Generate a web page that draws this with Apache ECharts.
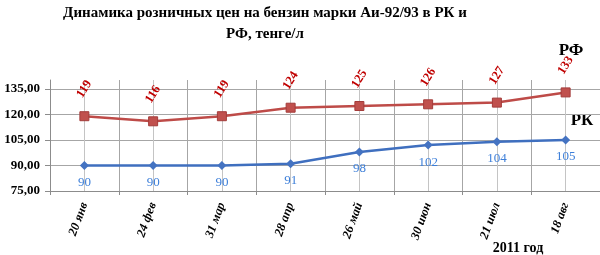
<!DOCTYPE html>
<html><head><meta charset="utf-8">
<script src="https://cdn.jsdelivr.net/npm/echarts@6/dist/echarts.min.js"></script>
<style>html,body{margin:0;padding:0;background:#fff}#c{width:600px;height:255px}</style>
</head><body><div id="c"></div>
<script>
const categories = ['20 янв','24 фев','31 мар','28 апр','26 май','30 июн','21 июл','18 авг'];
const rfValues = [119, 116, 119, 124, 125, 126, 127, 133];
const rkValues = [90, 90, 90, 91, 98, 102, 104, 105];
const yTicks = [75, 90, 105, 120, 135];
const titleText = 'Динамика розничных цен на бензин марки Аи-92/93 в РК и\nРФ, тенге/л';
const xAxisName = '2011 год';

const serif = 'Liberation Serif';
const chart = echarts.init(document.getElementById('c'), null, {renderer: 'canvas'});
chart.setOption({
  animation: false,
  backgroundColor: '#fff',
  grid: {left: 50, top: 80, width: 553, height: 111, containLabel: false},
  xAxis: {
    type: 'category', data: categories, boundaryGap: true,
    axisLine: {lineStyle: {color: '#8c8c8c', width: 1}},
    axisTick: {show: true, length: 4, lineStyle: {color: '#8c8c8c'}},
    axisLabel: {rotate: 70, margin: 12, color: '#000', fontFamily: serif, fontSize: 12.5, fontWeight: 'bold', fontStyle: 'italic', interval: 0},
    splitLine: {show: true, interval: 0, lineStyle: {color: '#a6a6a6', width: 1}}
  },
  yAxis: {
    type: 'value', min: 75, max: 140.3, interval: 15,
    axisLine: {show: true, lineStyle: {color: '#8c8c8c'}},
    axisTick: {show: true, length: 5, customValues: yTicks, lineStyle: {color: '#8c8c8c'}},
    axisLabel: {customValues: yTicks, margin: 10, color: '#000', fontFamily: serif, fontSize: 13, fontWeight: 'bold',
      formatter: v => v.toFixed(2).replace('.', ',')},
    splitLine: {show: true, lineStyle: {color: '#a6a6a6', width: 1}}
  },
  graphic: [
    {type: 'text', x: 265, y: 3, style: {text: titleText, align: 'center', verticalAlign: 'top', font: 'bold 15px "Liberation Serif"', lineHeight: 21, fill: '#000'}},
    {type: 'text', x: 571, y: 51, style: {text: 'РФ', align: 'center', verticalAlign: 'middle', font: 'bold 17px "Liberation Serif"', fill: '#000'}},
    {type: 'text', x: 582, y: 121, style: {text: 'РК', align: 'center', verticalAlign: 'middle', font: 'bold 17px "Liberation Serif"', fill: '#000'}},
    {type: 'text', x: 518, y: 248, style: {text: xAxisName, align: 'center', verticalAlign: 'middle', font: 'bold 14px "Liberation Serif"', fill: '#000'}}
  ],
  series: [
    {
      name: 'grid-minor', type: 'line', data: [], z: 0, silent: true,
      markLine: {silent: true, symbol: 'none', z: 0, label: {show: false},
        lineStyle: {type: 'solid', color: '#c4c4c4', width: 1},
        emphasis: {disabled: true},
        data: categories.map(c => ({xAxis: c}))}
    },
    {
      name: 'РФ', type: 'line', data: rfValues, z: 3,
      symbol: 'rect', symbolSize: 9,
      lineStyle: {color: '#be4b48', width: 2.5},
      itemStyle: {color: '#c0504d', borderColor: '#a33c3a', borderWidth: 1},
      label: {show: true, position: 'top', distance: 22, rotate: 58, align: 'center', verticalAlign: 'middle',
        color: '#c00000', fontFamily: serif, fontSize: 12.5, fontWeight: 'bold'}
    },
    {
      name: 'РК', type: 'line', data: rkValues, z: 3,
      symbol: 'diamond', symbolSize: 9,
      lineStyle: {color: '#3f6fbf', width: 2.5},
      itemStyle: {color: '#4473c2'},
      label: {show: true, position: 'bottom', distance: 6,
        color: '#3d7fd9', fontFamily: serif, fontSize: 13}
    }
  ]
});
</script></body></html>
